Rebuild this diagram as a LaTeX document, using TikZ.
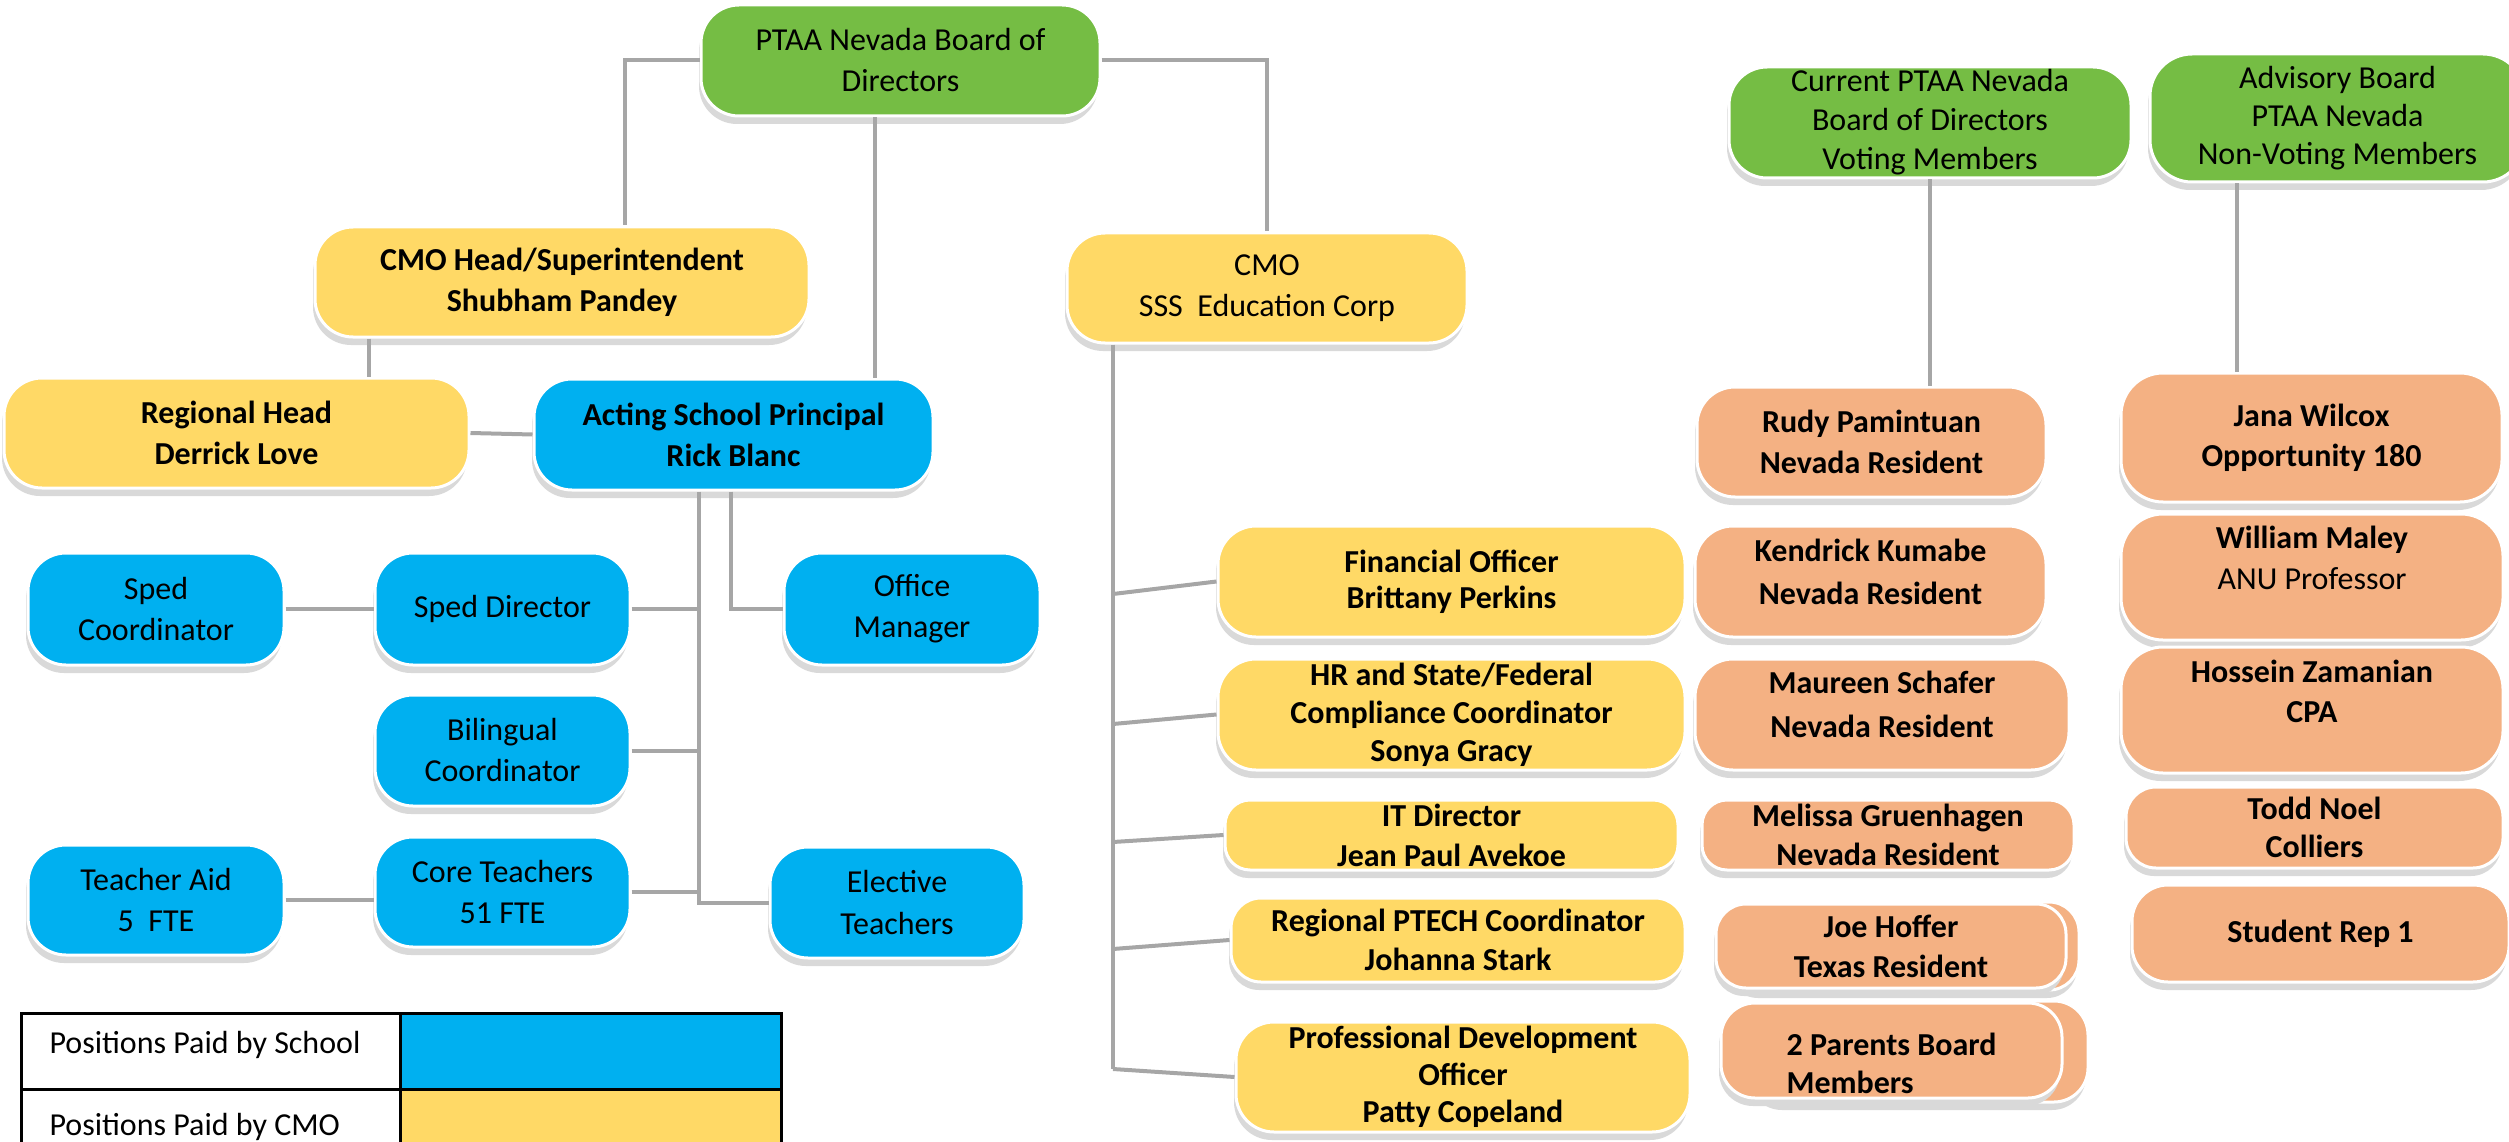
\documentclass[tikz,border=0pt]{standalone}
\usepackage{fontspec}
\setmainfont{Carlito}
\usetikzlibrary{positioning, shadows}
\definecolor{boardgreen}{HTML}{75BD44}
\definecolor{schoolblue}{HTML}{00B0F0}
\definecolor{cmoyellow}{HTML}{FFD966}
\definecolor{memberorange}{HTML}{F4B183}
\definecolor{linkgray}{HTML}{A6A6A6}
\definecolor{shadowgray}{HTML}{D9D9D9}

\begin{document}
\begin{tikzpicture}[x=1pt, y=-1pt,
  box/.style={rounded corners=38pt, draw=white, line width=3pt, align=center, inner sep=0pt,
              drop shadow={shadow xshift=-2pt, shadow yshift=-8pt, fill=shadowgray, opacity=1}},
  dims/.style 2 args={minimum width=#1pt, minimum height=#2pt},
  txt/.style={font=\fontsize{32}{#1}\selectfont}, txt/.default=41,
  txtb/.style={font=\fontsize{32}{#1}\selectfont\bfseries}, txtb/.default=41,
  boardbox/.style={box, fill=boardgreen},
  schoolbox/.style={box, fill=schoolblue},
  cmobox/.style={box, fill=cmoyellow},
  memberbox/.style={box, fill=memberorange},
  link/.style={draw=linkgray, line width=4pt},
]
\useasboundingbox (0,0) rectangle (2509,1142);

% board and CMO
\node[boardbox, txt, dims={399}{111}] (board) at (900.5,60.5) {PTAA Nevada Board of\\Directors};
\node[cmobox, txtb, dims={494}{110}] (cmohead) at (562,282) {CMO Head/Superintendent\\Shubham Pandey};
\node[cmobox, txtb, dims={465}{110}] (regional) at (236.5,433) {Regional Head\\Derrick Love};
\node[cmobox, txt, dims={400}{110}] (cmo) at (1267,288) {CMO\\SSS\ \ Education Corp};

% school staff
\node[schoolbox, txtb, dims={399}{111}] (principal) at (733.5,434.5) {Acting School Principal\\Rick Blanc};
\node[schoolbox, txt, dims={256}{112}] (spcoord) at (156,609) {Sped\\Coordinator};
\node[schoolbox, txt, dims={255}{112}] (spdir) at (502.5,609) {Sped Director};
\node[schoolbox, txt, dims={256}{112}] (office) at (912,609) {Office\\Manager};
\node[schoolbox, txt, dims={255}{111}] (biling) at (502.5,750.5) {Bilingual\\Coordinator};
\node[schoolbox, txt, dims={256}{110}] (aid) at (156,900) {Teacher Aid\\5\ \ FTE};
\node[schoolbox, txt, dims={255}{110}] (core) at (502.5,892) {Core Teachers\\51 FTE};
\node[schoolbox, txt, dims={254}{111}] (elective) at (897,902.5) {Elective\\Teachers};

% CMO staff
\node[cmobox, txtb=36, dims={467}{111}] (fin) at (1451.5,581.5) {Financial Officer\\Brittany Perkins};
\node[cmobox, txtb=38, dims={467}{111}] (hr) at (1451.5,714.5) {HR and State/Federal\\Compliance Coordinator\\Sonya Gracy};
\node[cmobox, txtb=40, dims={453}{70}, rounded corners=25pt] (it) at (1451.5,835) {IT Director\\Jean Paul Avekoe};
\node[cmobox, txtb=39, dims={454}{84}, rounded corners=30pt] (ptech) at (1458,940) {Regional PTECH Coordinator\\Johanna Stark};
\node[cmobox, txtb=37, dims={454}{110}] (pd) at (1463,1077) {Professional Development\\Officer\\Patty Copeland};

% voting members
\node[boardbox, txt=39, dims={402}{111}] (current) at (1930,122.5) {Current PTAA Nevada\\Board of Directors\\Voting Members};
\node[memberbox, txtb, dims={349}{110}] (rudy) at (1871.5,442) {Rudy Pamintuan\\Nevada Resident};
\node[memberbox, txtb=43, dims={351}{111}] (kendrick) at (1870.5,581.5) {Kendrick Kumabe\\Nevada Resident\rule[-20pt]{0pt}{0pt}};
\node[memberbox, txtb=44, dims={374}{111}] (maureen) at (1882,714.5) {Maureen Schafer\\Nevada Resident\rule[-20pt]{0pt}{0pt}};
\node[memberbox, txtb=39, dims={372}{70}, rounded corners=25pt] (melissa) at (1888,835) {Melissa Gruenhagen\\Nevada Resident};
\node[memberbox, dims={349}{88}, rounded corners=30pt] (joeback) at (1904.5,946) {};
\node[memberbox, txtb=40, dims={350}{84}, rounded corners=30pt] (joe) at (1891,946) {Joe Hoffer\\Texas Resident};
\node[memberbox, dims={338}{101}, rounded corners=34pt] (parentsback) at (1919,1051.5) {};
\node[memberbox, txtb=38, dims={341}{95}, rounded corners=34pt, align=left] (parents) at (1891.5,1050.5) {\rule{0pt}{49pt}2 Parents Board\\Members};

% advisory members
\node[boardbox, txt=38, dims={375}{128}, rounded corners=42pt] (advisory) at (2337.5,118) {Advisory Board\\PTAA Nevada\\Non-Voting Members};
\node[memberbox, txtb=40, dims={381}{129}, rounded corners=42pt] (jana) at (2311.5,437.5) {Jana Wilcox\\Opportunity 180};
\node[memberbox, txt, dims={382}{126}, rounded corners=42pt] (william) at (2312,577) {\textbf{William Maley}\\ANU Professor\rule[-38pt]{0pt}{0pt}};
\node[memberbox, txtb=40, dims={382}{126}, rounded corners=42pt] (hossein) at (2312,710) {Hossein Zamanian\\CPA\rule[-38pt]{0pt}{0pt}};
\node[memberbox, txtb=38, dims={377}{81}, rounded corners=30pt] (todd) at (2314.5,827.5) {Todd Noel\\Colliers};
\node[memberbox, txtb, dims={377}{97}, rounded corners=36pt] (student) at (2320.5,933.5) {Student Rep 1};

% connectors
\draw[link] (board.west) -| ([xshift=63pt]cmohead.north);
\draw[link] (board.east) -| (cmo.north);
\draw[link] ([xshift=-26pt]board.south) -- ([xshift=-26pt]board.south |- principal.north);
\draw[link] ([xshift=-193pt]cmohead.south) -- ([xshift=-193pt]cmohead.south |- regional.north);
\draw[link] (regional.east) -- (principal.west);

\coordinate (ptop) at ([xshift=-34.5pt]principal.south);
\coordinate (pbot) at (699,905);
\draw[link] (ptop) -- (pbot);
\draw[link] ([xshift=-2.5pt]principal.south) |- (office.west);
\foreach \pos in {spdir, biling, core}
  \draw[link] (\pos.east) -- (\pos.east -| pbot);
\draw[link] (elective.west) -- (elective.west -| pbot);
\draw[link] (spcoord.east) -- (spdir.west);
\draw[link] (aid.east) -- (aid.east -| core.west);

\coordinate (ctop) at ([xshift=-154pt]cmo.south);
\coordinate (cbot) at (1113,1069);
\draw[link] (ctop) -- (cbot);
\foreach \pos/\y in {fin/594, hr/724, it/842, ptech/949, pd/1069} {
  \coordinate (br-\pos) at (1113,\y);
  \draw[link] (br-\pos) -- (\pos.west);
}

\draw[link] (current.south) -- (current.south |- rudy.north);
\draw[link] ([xshift=-101pt]advisory.south) -- ([xshift=-101pt]advisory.south |- jana.north);

% legend
\fill[schoolblue] (400,1013) rectangle (781,1089);
\fill[cmoyellow] (400,1089) rectangle (781,1170);
\draw[line width=3pt] (21,1170) |- (781,1013) -- (781,1170);
\draw[line width=3pt] (21,1089) -- (781,1089);
\draw[line width=3pt] (400,1013) -- (400,1170);
\node[txt, anchor=base west] (paidschool) at (46,1053) {Positions Paid by School};
\node[txt, anchor=base west] (paidcmo) at (46,1135) {Positions Paid by CMO};
\end{tikzpicture}
\end{document}
